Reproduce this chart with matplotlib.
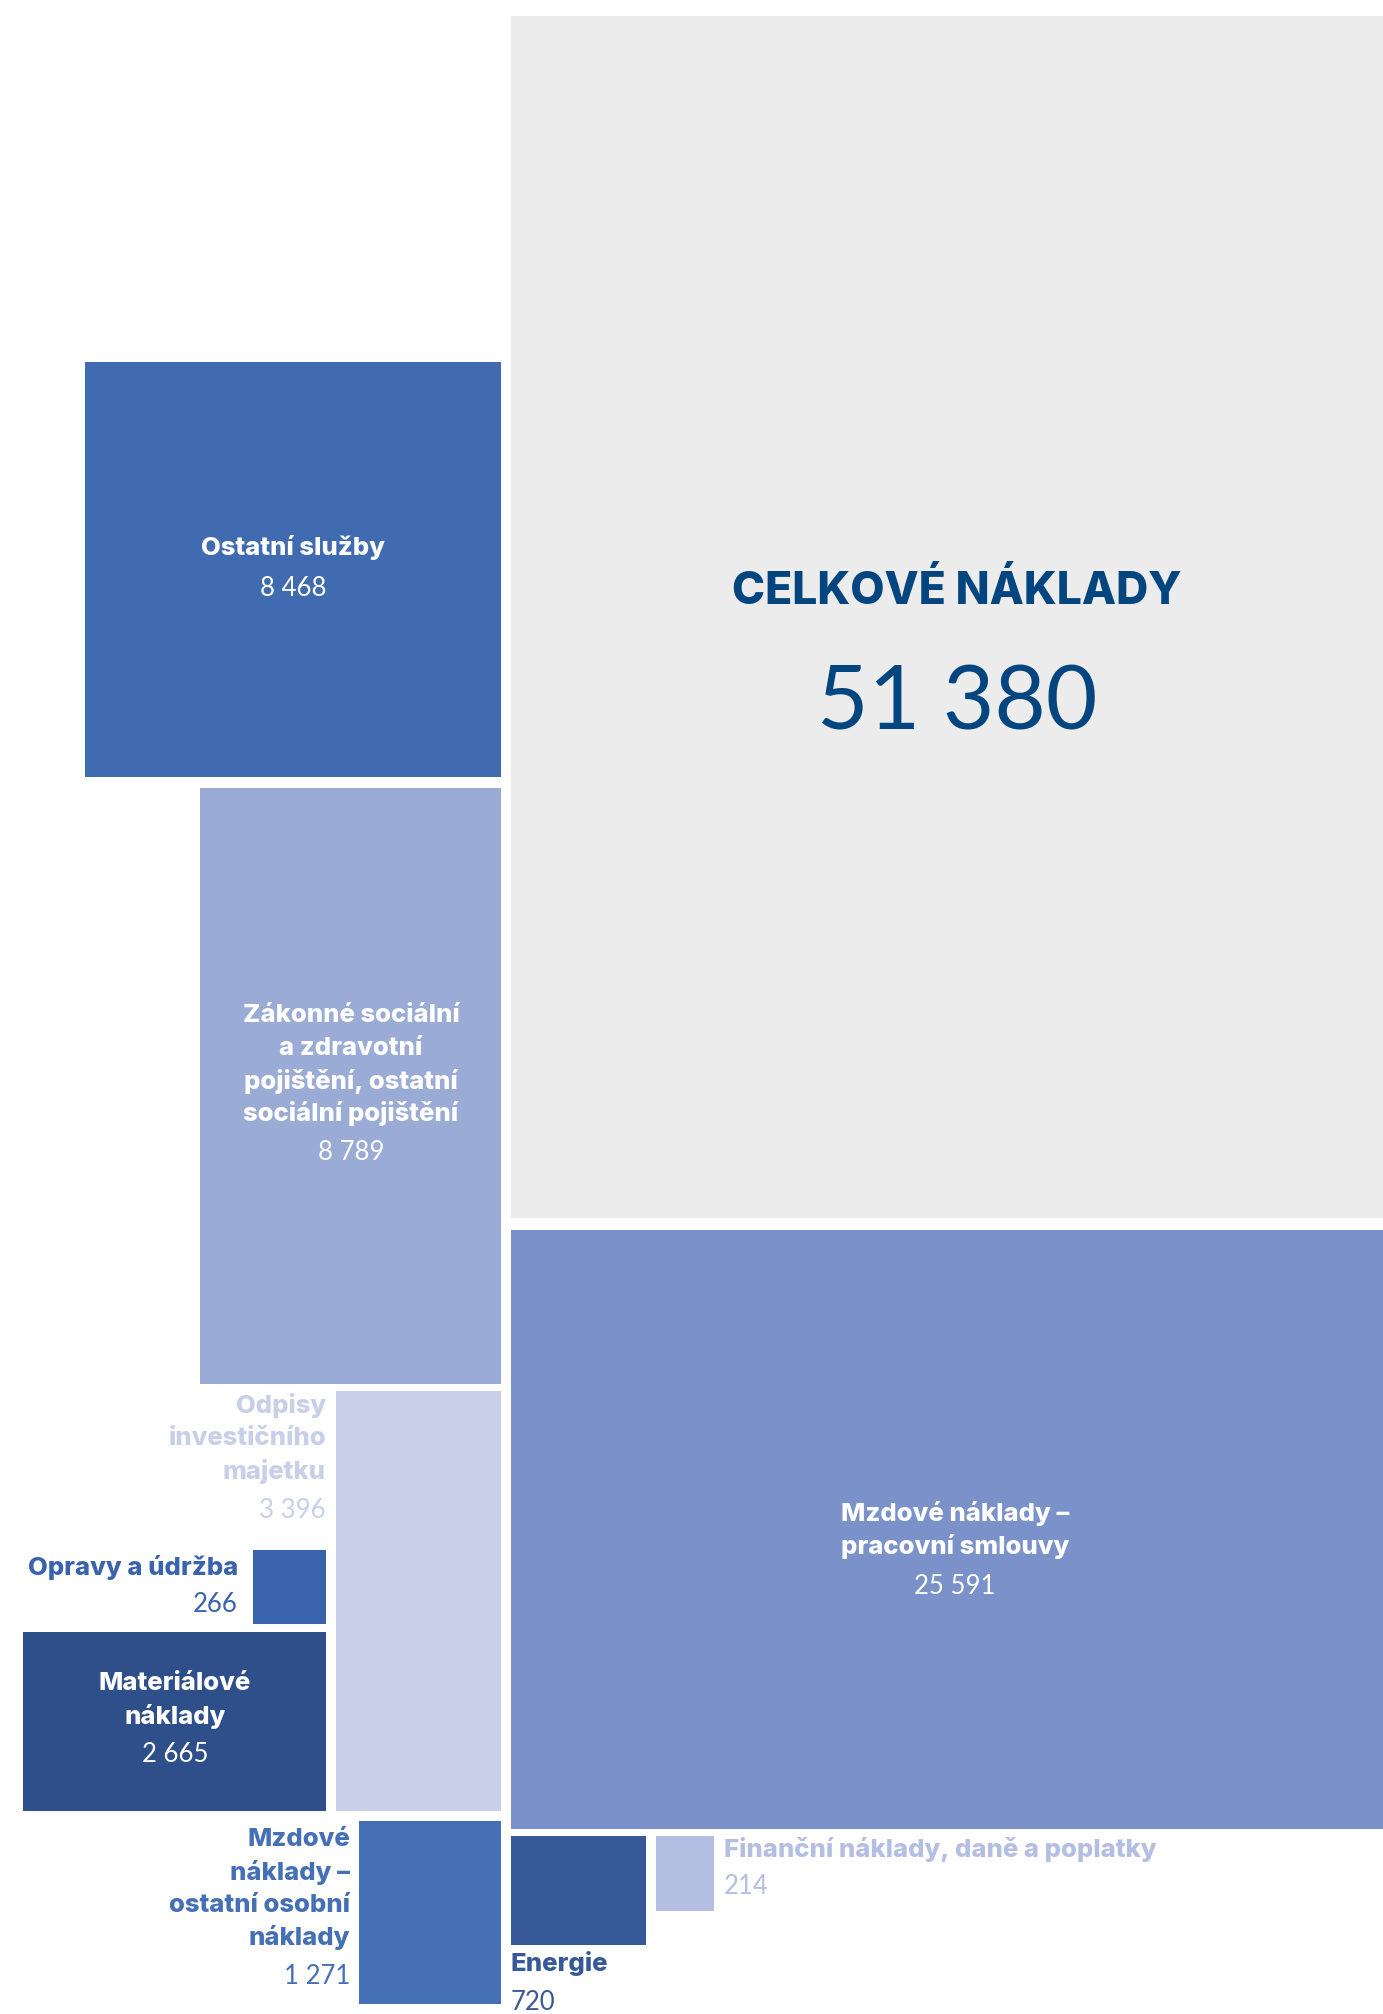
import matplotlib.pyplot as plt
from matplotlib.patches import Rectangle

# Data: náklady (tis. Kč)
nazvy = [
    "CELKOVÉ NÁKLADY",
    "Mzdové náklady –\npracovní smlouvy",
    "Zákonné sociální\na zdravotní\npojištění, ostatní\nsociální pojištění",
    "Ostatní služby",
    "Odpisy\ninvestičního\nmajetku",
    "Materiálové\nnáklady",
    "Mzdové\nnáklady –\nostatní osobní\nnáklady",
    "Energie",
    "Opravy a údržba",
    "Finanční náklady, daně a poplatky",
]
hodnoty = [51380, 25591, 8789, 8468, 3396, 2665, 1271, 720, 266, 214]

barvy = ["#ececec", "#7a91c9", "#9aabd6", "#416bb1", "#c8cfe8",
         "#2e4f89", "#4570b5", "#375998", "#3a63ad", "#b4bee2"]

# rozvržení (v pixelech): šířka boxu a kotevní roh, výška se dopočítá z hodnoty
PLOCHA = 20.4  # px^2 na jednotku
sirky = [872, 872, 301, 416, 165, 303, 142, 135, 73, 58]
# (x, y, roh) - roh: 'lt' levý horní, 'rt' pravý horní, 'rb' pravý dolní, 'lb' levý dolní
kotvy = [(511, 16, "lt"), (511, 1230, "lt"), (501, 788, "rt"), (501, 362, "rt"),
         (501, 1811, "rb"), (326, 1811, "rb"), (501, 1821, "rt"), (511, 1836, "lt"),
         (326, 1624, "rb"), (656, 1836, "lt")]

# popisky: x, ha, y prvního řádku, y hodnoty, barva textu
popisky = [
    (957, "center", 592, 704, "#03467f"),
    (955, "center", 1514, 1586, "white"),
    (351, "center", 1016, 1152, "white"),
    (293, "center", 547, 588, "white"),
    (326, "right", 1406, 1510, "#c8cfe8"),
    (175, "center", 1684, 1755, "white"),
    (350, "right", 1840, 1976, "#4570b5"),
    (511, "left", 1963, 2002, "#375998"),
    (238, "right", 1567, 1605, "#3a63ad"),
    (724, "left", 1850, 1887, "#b4bee2"),
]
RADEK = 32.5

TUCNE = ['Inter', 'DejaVu Sans']
CISLA = ['Lato', 'DejaVu Sans']

fig = plt.figure(figsize=(13.83, 20.14), dpi=100)
ax = fig.add_axes([0, 0, 1, 1])
ax.set_xlim(0, 1383)
ax.set_ylim(2014, 0)
ax.axis('off')

for i, v in enumerate(hodnoty):
    w = sirky[i]
    h = v * PLOCHA / w
    x, y, roh = kotvy[i]
    x0 = x if roh[0] == "l" else x - w
    y0 = y if roh[1] == "t" else y - h
    ax.add_patch(Rectangle((x0, y0), w, h, facecolor=barvy[i], edgecolor='none'))

for i, (nazev, v) in enumerate(zip(nazvy, hodnoty)):
    tx, ha, ty, vy, c = popisky[i]
    cislo = f"{v:,}".replace(",", " ")
    if i == 0:
        ax.text(tx, ty, nazev, ha=ha, va='center', color=c,
                fontsize=32, fontweight=800, family=TUCNE)
        ax.text(tx, vy, cislo, ha=ha, va='center', color=c,
                fontsize=64, fontweight=400, family=CISLA)
        continue
    for j, radek in enumerate(nazev.split("\n")):
        ax.text(tx, ty + j * RADEK, radek, ha=ha, va='center', color=c,
                fontsize=18.5, fontweight=800, family=TUCNE)
    ax.text(tx, vy, cislo, ha=ha, va='center', color=c,
            fontsize=18.5, fontweight=400, family=CISLA)

fig.savefig("out.png", dpi=100)
